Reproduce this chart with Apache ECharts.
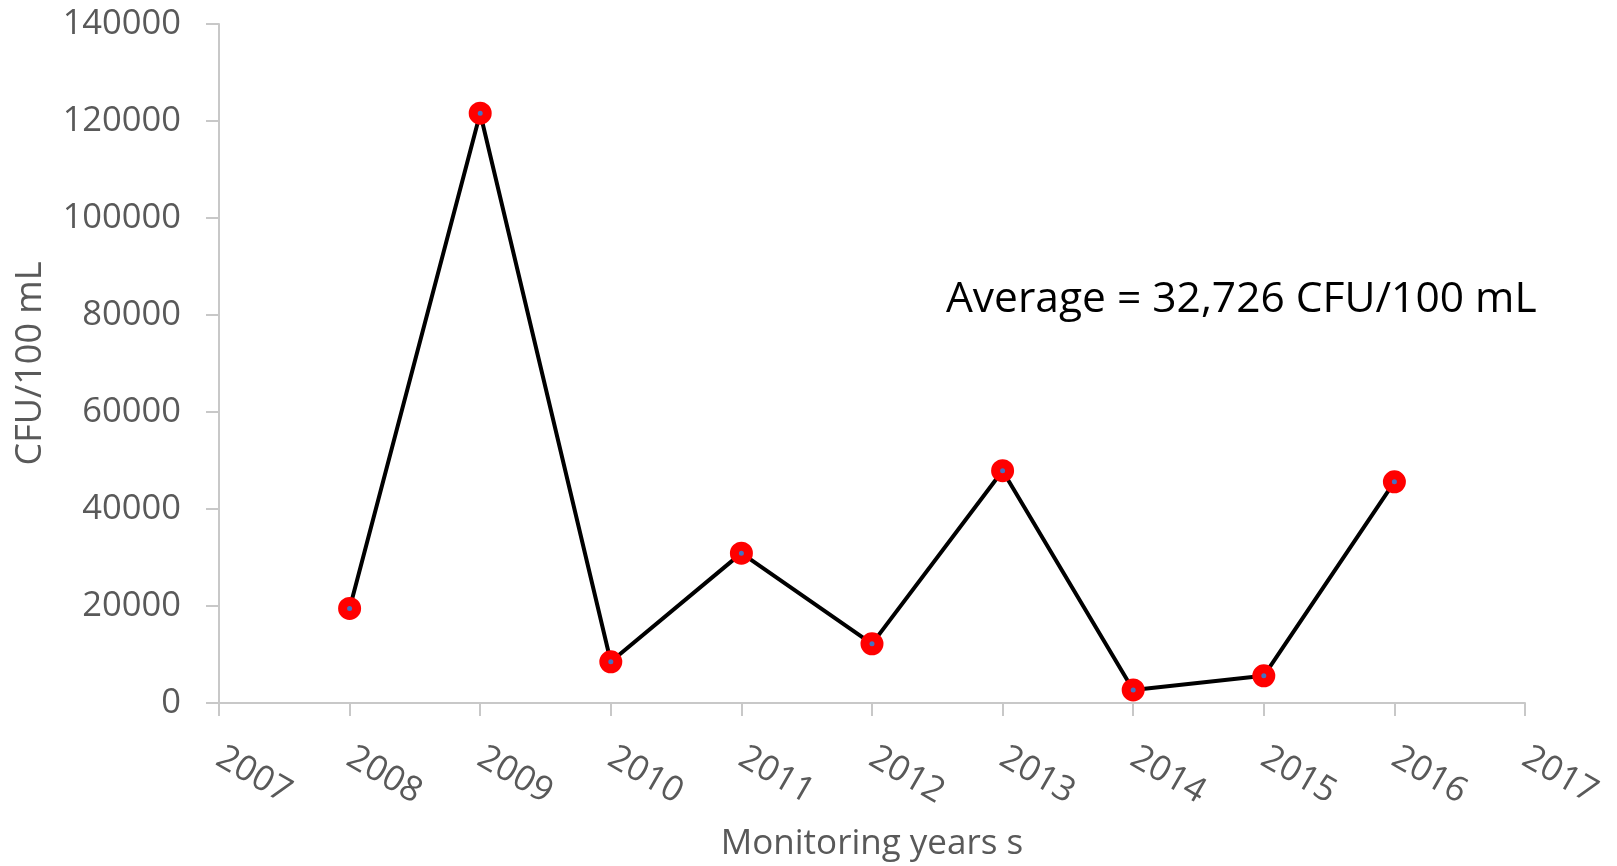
<!DOCTYPE html>
<html>
<head>
<meta charset="utf-8">
<script src="https://cdn.jsdelivr.net/npm/echarts@6/dist/echarts.min.js"></script>
<style>
  html, body { margin: 0; padding: 0; background: #fff; }
  #chart { width: 1617px; height: 866px; }
</style>
</head>
<body>
<div id="chart"></div>
<script>
// Annual counts (CFU/100 mL) by monitoring year
const years = [2008, 2009, 2010, 2011, 2012, 2013, 2014, 2015, 2016];
const cfuValues = [19500, 121600, 8500, 30900, 12200, 47900, 2700, 5600, 45600];
const averageLabel = 'Average = 32,726 CFU/100 mL';
const xAxisName = 'Monitoring years s';
const yAxisName = 'CFU/100 mL';

const FONT = '"Open Sans", "Noto Sans", sans-serif';
const AXIS_GRAY = '#c8c8c8';
const LABEL_GRAY = '#595959';

const chart = echarts.init(document.getElementById('chart'), null, { renderer: 'canvas' });

chart.setOption({
  animation: false,
  backgroundColor: '#ffffff',
  grid: {
    left: 219, right: 92, top: 24, bottom: 163,
    containLabel: false,
    outerBoundsMode: 'none'
  },
  xAxis: {
    type: 'value',
    min: 2007,
    max: 2017,
    interval: 1,
    name: xAxisName,
    nameLocation: 'middle',
    nameGap: 124,
    nameTextStyle: { fontFamily: FONT, fontSize: 35, color: LABEL_GRAY },
    axisLine: { show: true, lineStyle: { color: AXIS_GRAY, width: 2 } },
    axisTick: { show: true, length: 13, lineStyle: { color: AXIS_GRAY, width: 2 } },
    splitLine: { show: false },
    axisLabel: {
      rotate: -30,
      margin: 52,
      fontFamily: FONT,
      fontSize: 35,
      color: LABEL_GRAY,
      formatter: v => String(v)
    }
  },
  yAxis: {
    type: 'value',
    min: 0,
    max: 140000,
    interval: 20000,
    name: yAxisName,
    nameLocation: 'middle',
    nameGap: 170,
    nameRotate: 90,
    nameTextStyle: { fontFamily: FONT, fontSize: 36, color: LABEL_GRAY },
    axisLine: { show: true, lineStyle: { color: AXIS_GRAY, width: 2 } },
    axisTick: { show: true, length: 13, lineStyle: { color: AXIS_GRAY, width: 2 } },
    splitLine: { show: false },
    axisLabel: {
      margin: 38,
      fontFamily: FONT,
      fontSize: 34.5,
      color: LABEL_GRAY,
      formatter: v => String(v)
    }
  },
  graphic: [{
    type: 'text',
    left: 946,
    top: 278,
    style: {
      text: averageLabel,
      fontFamily: FONT,
      fontSize: 42.5,
      fill: '#000000'
    }
  }],
  series: [{
    type: 'line',
    data: years.map((y, i) => [y, cfuValues[i]]),
    symbol: 'circle',
    symbolSize: 14,
    showAllSymbol: true,
    lineStyle: { color: '#000000', width: 4 },
    itemStyle: { color: '#4472C4', borderColor: '#ff0000', borderWidth: 9 },
    z: 3
  }]
});
</script>
</body>
</html>
